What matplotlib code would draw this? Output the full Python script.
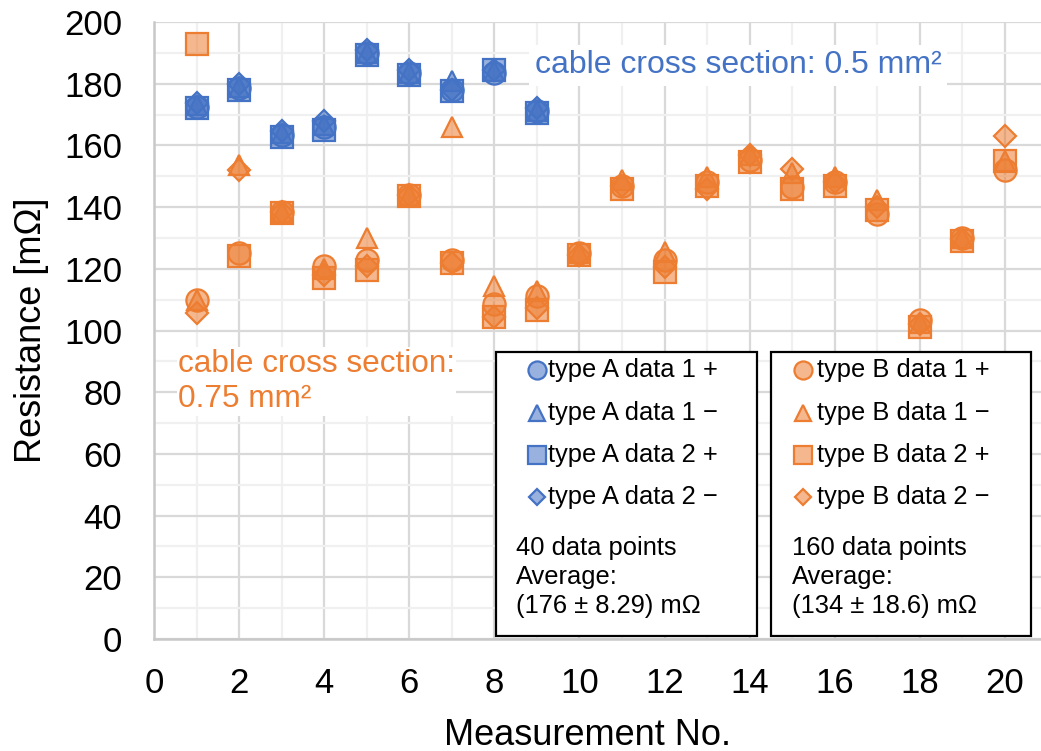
import matplotlib
matplotlib.use("Agg")
import matplotlib.pyplot as plt
from matplotlib.colors import to_rgba
from matplotlib.lines import Line2D
from matplotlib.patches import Rectangle
from matplotlib.ticker import MultipleLocator

plt.rcParams['font.family'] = ['Liberation Sans', 'DejaVu Sans']

# measurement numbers
xA = [1, 2, 3, 4, 5, 6, 7, 8, 9]
xB = list(range(1, 21))

# type A (0.5 mm^2), resistance in mOhm
a_data1_plus = [172.5, 178.5, 163.5, 166.0, 190.0, 183.5, 178.0, 183.6, 171.0]
a_data1_minus = [173.0, 179.0, 164.0, 166.5, 190.0, 183.5, 180.8, 184.0, 171.0]
a_data2_plus = [172.0, 178.0, 162.7, 164.9, 189.3, 182.7, 177.5, 184.4, 170.4]
a_data2_minus = [173.7, 180.0, 164.7, 167.9, 190.8, 184.5, 178.0, 184.5, 172.0]

# type B (0.75 mm^2)
b_data1_plus = [110.0, 125.0, 138.5, 121.0, 123.0, 144.0, 123.0, 108.5, 111.2, 125.0,
                147.0, 122.7, 148.2, 155.2, 146.5, 148.2, 137.9, 103.5, 130.0, 152.0]
b_data1_minus = [110.0, 153.5, 138.5, 120.0, 130.0, 144.0, 166.0, 114.5, 112.9, 125.0,
                 148.7, 125.4, 149.8, 156.8, 150.9, 149.8, 142.2, 102.5, 130.0, 154.8]
b_data2_plus = [193.0, 124.0, 138.0, 116.9, 119.7, 143.5, 122.0, 104.5, 106.6, 124.5,
                146.0, 119.0, 146.8, 154.5, 145.8, 146.8, 139.0, 101.0, 129.0, 155.1]
b_data2_minus = [105.7, 152.0, 138.5, 118.0, 120.8, 144.0, 122.0, 104.5, 107.3, 124.5,
                 147.0, 120.6, 146.0, 157.0, 152.2, 148.2, 140.0, 102.2, 129.8, 163.0]

stats_a = "40 data points\nAverage:\n(176 \u00b1 8.29) m\u03a9"
stats_b = "160 data points\nAverage:\n(134 \u00b1 18.6) m\u03a9"

blue = '#4472C4'
orange = '#ED7D31'

W, H = 1041, 751
fig = plt.figure(figsize=(W / 100, H / 100), dpi=100)
ax = fig.add_axes([154 / W, (H - 639) / H, (W - 154) / W, (639 - 22) / H])

# marker, size per series
styles = [('o', 16), ('^', 15), ('s', 16), ('D', 11)]

def scatter_group(xs, series, color):
    for (mk, ms), ys in zip(styles, series):
        ax.plot(xs, ys, linestyle='none', marker=mk, markersize=ms,
                markerfacecolor=to_rgba(color, 0.55), markeredgecolor=color,
                markeredgewidth=1.6, zorder=3)

scatter_group(xA, [a_data1_plus, a_data1_minus, a_data2_plus, a_data2_minus], blue)
scatter_group(xB, [b_data1_plus, b_data1_minus, b_data2_plus, b_data2_minus], orange)

ax.set_xlim(0, 20.85)
ax.set_ylim(0, 200)
ax.xaxis.set_major_locator(MultipleLocator(2))
ax.xaxis.set_minor_locator(MultipleLocator(1))
ax.yaxis.set_major_locator(MultipleLocator(20))
ax.yaxis.set_minor_locator(MultipleLocator(10))
ax.grid(True, which='major', color='#d9d9d9', linewidth=1.6)
ax.grid(True, which='minor', color='#f0f0f0', linewidth=1.6)
ax.set_axisbelow(True)
ax.tick_params(which='both', length=0, labelsize=25)
ax.tick_params(axis='x', pad=20)
ax.tick_params(axis='y', pad=23)
for side in ['top', 'right']:
    ax.spines[side].set_visible(False)
for side in ['left', 'bottom']:
    ax.spines[side].set_color('#c8c8c8')
    ax.spines[side].set_linewidth(1.8)

ax.set_xlabel('Measurement No.', fontsize=26)
ax.set_ylabel('Resistance [m\u03a9]', fontsize=26)
ax.xaxis.set_label_coords(0.489, -0.128)
ax.yaxis.set_label_coords(-0.118, 0.5)

# annotations
ax.text(8.95, 186, 'cable cross section: 0.5 mm\u00b2', color=blue, fontsize=23,
        ha='left', va='center', zorder=4,
        bbox=dict(facecolor='white', edgecolor='none', pad=4))
ax.text(0.56, 83.5, 'cable cross section:\n0.75 mm\u00b2', color=orange, fontsize=22.7,
        ha='left', va='center', linespacing=1.25, zorder=4,
        bbox=dict(facecolor='white', edgecolor='none', pad=1))

# two hand-made legend boxes
labels_a = ['type A data 1 +', 'type A data 1 \u2212', 'type A data 2 +', 'type A data 2 \u2212']
labels_b = ['type B data 1 +', 'type B data 1 \u2212', 'type B data 2 +', 'type B data 2 \u2212']
row_y = [370, 413, 455, 497]
legend_styles = [('o', 13), ('^', 12), ('s', 13), ('D', 8.5)]

def legend_box(x0, x1, color, labels, mark_x, text_x, stats, stats_x):
    fig.add_artist(Rectangle((x0 / W, (H - 636) / H), (x1 - x0) / W, (636 - 352) / H,
                             transform=fig.transFigure, facecolor='white',
                             edgecolor='black', linewidth=1.6, zorder=5))
    for (mk, ms), lab, y in zip(legend_styles, labels, row_y):
        fig.add_artist(Line2D([mark_x / W], [(H - y) / H], transform=fig.transFigure,
                              linestyle='none', marker=mk, markersize=ms,
                              markerfacecolor=to_rgba(color, 0.55), markeredgecolor=color,
                              markeredgewidth=1.6, zorder=6))
        fig.text(text_x / W, (H - y) / H, lab, fontsize=18.4, ha='left', va='center', zorder=6)
    fig.text(stats_x / W, (H - 536) / H, stats, fontsize=18.4, ha='left', va='top',
             linespacing=1.26, zorder=6)

legend_box(496, 757, blue, labels_a, 537, 548, stats_a, 516)
legend_box(771, 1031, orange, labels_b, 803, 817, stats_b, 792)

fig.savefig('out.png', dpi=100)
plt.close(fig)
